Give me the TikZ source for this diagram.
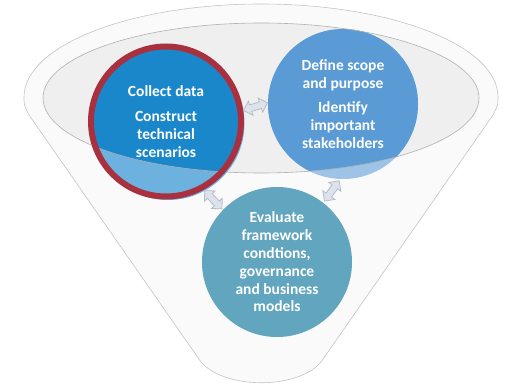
\documentclass[tikz,border=0pt]{standalone}
\usepackage{fontspec}
\newfontfamily\labelfont{Carlito}
\usetikzlibrary{shapes.arrows}

\definecolor{collectdark}{HTML}{1B87CB}
\definecolor{collectlight}{HTML}{6DB1DE}
\definecolor{ringred}{HTML}{A9303F}
\definecolor{scopedark}{HTML}{5A9AD5}
\definecolor{scopelight}{HTML}{9DC3E6}
\definecolor{evalblue}{HTML}{62A5BF}
\definecolor{arrowfill}{HTML}{DCE3EC}
\definecolor{arrowedge}{HTML}{B4BCC6}
\definecolor{rimfill}{HTML}{EFEFEF}
\definecolor{rimline}{HTML}{B0B0B0}
\definecolor{funnelfill}{HTML}{FAFAFA}
\definecolor{funnelline}{HTML}{C4C4C4}

\tikzset{
  stage/.style={circle, minimum size=150pt, inner sep=0pt, align=center,
    text=white, font=\labelfont\bfseries\fontsize{15.5}{17.8}\selectfont},
  rimpart/.style={path picture={
    \fill[#1] (rim) ellipse (218 and 75);
    \draw[rimline, line width=0.6pt] (rim) ellipse (218 and 75);}},
  dblarrow/.style={double arrow, draw=arrowedge, fill=arrowfill, line width=0.8pt,
    minimum height=25pt, inner xsep=0pt, inner ysep=3pt,
    double arrow head extend=4pt}
}

\begin{document}
\begin{tikzpicture}[x=1pt, y=1pt]
  \useasboundingbox (0,0) rectangle (513,-387);
  \draw[funnelline, fill=funnelfill, line width=0.6pt]
    (24,-97) arc[start angle=180, end angle=0, x radius=237, y radius=93]
    .. controls (498,-105) .. (493,-115) -- (321,-362)
    .. controls (319,-365) .. (316,-367)
    .. controls (290,-388) and (233,-388) .. (206,-367)
    .. controls (203,-365) .. (201,-362) -- (29,-115)
    .. controls (24,-105) .. (24,-97);
  \coordinate (rim) at (261,-98);
  \draw[rimline, fill=rimfill, line width=0.6pt] (rim) ellipse (218 and 75);

  \fill[collectlight] (168,-123.5) circle (76.5);
  \node[stage, fill=collectlight, rimpart=collectdark, draw=ringred, line width=6pt]
    (collect) at (166,-121.5) {Collect data\\[7pt]Construct\\technical\\scenarios};
  \node[stage, fill=scopelight, rimpart=scopedark]
    (scope) at (343,-104) {Define scope\\and purpose\\[7pt]Identify\\important\\stakeholders};
  \node[stage, fill=evalblue]
    (evaluate) at (277,-262) {Evaluate\\framework\\condtions,\\governance\\and business\\models};

  \foreach \a/\b in {collect.8/scope.179, evaluate.52/scope.268, collect.-61/evaluate.136}
    \path (\a) -- (\b) node[dblarrow, midway, sloped] {};
\end{tikzpicture}
\end{document}
